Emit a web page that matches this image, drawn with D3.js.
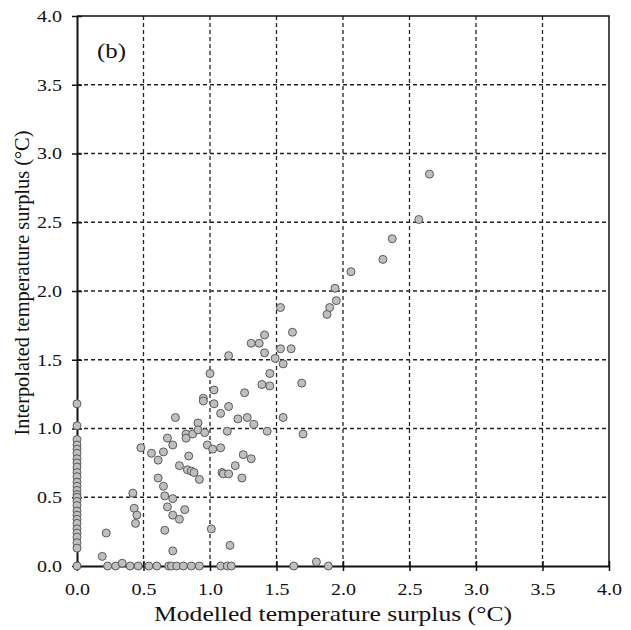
<!DOCTYPE html>
<html>
<head>
<meta charset="utf-8">
<script src="https://cdn.jsdelivr.net/npm/d3@7"></script>
<style>
  body { margin: 0; background: #fff; }
  text { font-family: "Liberation Serif", "Times New Roman", serif; fill: #111; }
</style>
</head>
<body>
<svg id="chart" width="631" height="630"></svg>
<script>
// points sitting on the y axis (modelled = 0)
var zeroColumnY = [1.18, 1.02, 0.92, 0.88, 0.85, 0.82, 0.78, 0.75, 0.72, 0.68, 0.65, 0.61,
  0.58, 0.55, 0.52, 0.50, 0.47, 0.44, 0.40, 0.37, 0.34, 0.31, 0.27, 0.24, 0.21, 0.17, 0.13, 0.0];
// points sitting on the x axis (interpolated = 0)
var zeroRowX = [0.23, 0.29, 0.40, 0.46, 0.54, 0.60, 0.69, 0.71, 0.75, 0.80, 0.86, 0.92,
  1.08, 1.13, 1.16, 1.63, 1.89];
// the rest [modelled, interpolated]
var cloud = [
  [0.34, 0.02], [0.19, 0.07], [1.80, 0.03], [0.72, 0.11], [1.15, 0.15], [1.01, 0.27],
  [0.66, 0.26], [0.22, 0.24], [0.42, 0.53], [0.43, 0.42], [0.45, 0.37], [0.44, 0.31],
  [0.48, 0.86], [0.56, 0.82], [0.61, 0.77], [0.65, 0.83], [0.68, 0.93], [0.72, 0.88], [0.74, 1.08],
  [0.61, 0.64], [0.65, 0.58], [0.66, 0.51], [0.68, 0.43], [0.72, 0.49], [0.72, 0.37],
  [0.77, 0.34], [0.81, 0.41], [0.77, 0.73], [0.84, 0.80], [0.82, 0.96], [0.82, 0.93],
  [0.87, 0.96], [0.83, 0.70], [0.86, 0.69], [0.88, 0.68], [0.92, 0.63], [0.91, 1.04],
  [0.91, 0.99], [0.95, 1.22], [0.95, 1.20], [0.96, 0.97], [0.98, 0.88], [1.02, 0.85],
  [1.00, 1.40], [1.03, 1.28], [1.03, 1.18], [1.08, 1.11], [1.14, 1.16], [1.13, 0.98],
  [1.08, 0.86], [1.09, 0.68], [1.10, 0.67], [1.14, 0.67], [1.19, 0.73], [1.21, 1.07],
  [1.28, 1.08], [1.26, 1.26], [1.25, 0.81], [1.31, 0.78], [1.24, 0.64], [1.33, 1.03],
  [1.43, 0.98], [1.14, 1.53], [1.31, 1.62], [1.37, 1.62], [1.41, 1.68], [1.41, 1.55],
  [1.39, 1.32], [1.45, 1.31], [1.45, 1.40], [1.49, 1.51], [1.53, 1.58], [1.55, 1.47],
  [1.61, 1.58], [1.62, 1.70], [1.53, 1.88], [1.55, 1.08], [1.69, 1.33], [1.70, 0.96],
  [1.88, 1.83], [1.90, 1.88], [1.95, 1.93], [1.94, 2.02], [2.06, 2.14], [2.30, 2.23],
  [2.37, 2.38], [2.57, 2.52], [2.65, 2.85]
];
var ticks = [0, 0.5, 1, 1.5, 2, 2.5, 3, 3.5, 4];

function draw() {
  var points = [];
  zeroColumnY.forEach(function(v) { points.push([0, v]); });
  zeroRowX.forEach(function(v) { points.push([v, 0]); });
  cloud.forEach(function(p) { points.push(p); });

  var plotLeft = 77, plotRight = 609, plotTop = 16, plotBottom = 566;
  var svg = d3.select("#chart");

  var xScale = d3.scaleLinear().domain([0, 4]).range([plotLeft, plotRight]);
  var yScale = d3.scaleLinear().domain([0, 4]).range([plotBottom, plotTop]);

  // grid
  var grid = svg.append("g");
  grid.selectAll("line.v").data(ticks.slice(1, -1)).enter()
    .append("line").attr("class", "v")
    .attr("x1", function(d) { return xScale(d); })
    .attr("x2", function(d) { return xScale(d); })
    .attr("y1", plotTop).attr("y2", plotBottom)
    .attr("stroke", "#222").attr("stroke-width", 1.3)
    .attr("stroke-dasharray", "4,3");
  grid.selectAll("line.h").data(ticks.slice(1, -1)).enter()
    .append("line").attr("class", "h")
    .attr("y1", function(d) { return yScale(d); })
    .attr("y2", function(d) { return yScale(d); })
    .attr("x1", plotLeft).attr("x2", plotRight)
    .attr("stroke", "#222").attr("stroke-width", 1.3)
    .attr("stroke-dasharray", "4,3");

  // frame top / right
  svg.append("path")
    .attr("d", "M" + plotLeft + "," + plotTop + "H" + plotRight + "V" + plotBottom)
    .attr("fill", "none").attr("stroke", "#111").attr("stroke-width", 1.5);

  // axes
  var xAxis = d3.axisBottom(xScale).tickValues(ticks).tickFormat(d3.format(".1f"))
    .tickSizeInner(5).tickSizeOuter(0).tickPadding(12);
  var gx = svg.append("g").attr("transform", "translate(0," + plotBottom + ")").call(xAxis);
  var yAxis = d3.axisLeft(yScale).tickValues(ticks).tickFormat(d3.format(".1f"))
    .tickSizeInner(5).tickSizeOuter(0).tickPadding(10);
  var gy = svg.append("g").attr("transform", "translate(" + plotLeft + ",0)").call(yAxis);

  [gx, gy].forEach(function(g) {
    g.attr("font-size", 17).attr("font-family", "Liberation Serif, serif");
    g.select(".domain").attr("stroke", "#111").attr("stroke-width", 2);
    g.selectAll(".tick line").attr("stroke", "#111").attr("stroke-width", 1.5);
    g.selectAll(".tick text").style("font-size", "17px").attr("fill", "#222")
      .attr("textLength", 25).attr("lengthAdjust", "spacingAndGlyphs");
  });
  // ticks cross the axis
  gx.selectAll(".tick line").attr("y1", -5);
  gy.selectAll(".tick line").attr("x1", 5);

  // points
  svg.append("g").selectAll("circle").data(points).enter()
    .append("circle")
    .attr("cx", function(d) { return xScale(d[0]); })
    .attr("cy", function(d) { return yScale(d[1]); })
    .attr("r", 4)
    .attr("fill", "#bfbfbf")
    .attr("stroke", "#5a5a5a")
    .attr("stroke-width", 1);

  // labels
  svg.append("text").attr("x", 333).attr("y", 621)
    .attr("text-anchor", "middle").style("font-size", "21px")
    .attr("textLength", 358).attr("lengthAdjust", "spacingAndGlyphs")
    .text("Modelled temperature surplus (°C)");
  svg.append("text")
    .attr("transform", "translate(29,283) rotate(-90)")
    .attr("text-anchor", "middle").style("font-size", "20.5px")
    .attr("textLength", 305).attr("lengthAdjust", "spacingAndGlyphs")
    .text("Interpolated temperature surplus (°C)");
  svg.append("text").attr("x", 97).attr("y", 58)
    .style("font-size", "22px")
    .attr("textLength", 29).attr("lengthAdjust", "spacingAndGlyphs")
    .text("(b)");
}

draw();
</script>
</body>
</html>
